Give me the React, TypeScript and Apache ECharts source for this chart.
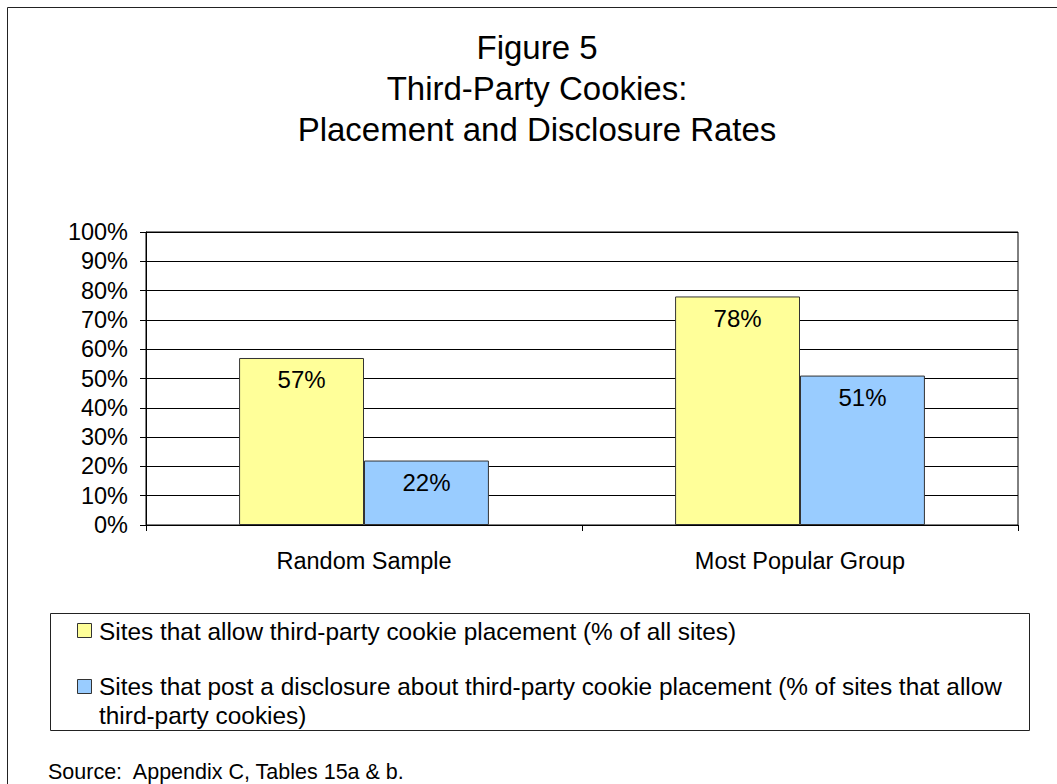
import React, { useEffect, useRef } from "react";
import * as echarts from "echarts";

const categories = ["Random Sample", "Most Popular Group"];
const seriesNames = [
  "Sites that allow third-party cookie placement (% of all sites)",
  "Sites that post a disclosure about third-party cookie placement (% of sites that allow third-party cookies)",
];
const placementValues = [57, 78];
const disclosureValues = [22, 51];
const titleLines = ["Figure 5", "Third-Party Cookies:", "Placement and Disclosure Rates"];
const sourceNote = "Source:  Appendix C, Tables 15a & b.";
const colors = ["#FFFF99", "#99CCFF"];

const FONT = "'Liberation Sans', Arial, sans-serif";

export default function App() {
  const ref = useRef<HTMLDivElement>(null);
  useEffect(() => {
    if (!ref.current) return;
    const chart = echarts.init(ref.current, null, { renderer: "svg" });
    const labelStyle = {
      show: true,
      position: "insideTop",
      distance: 10,
      formatter: "{c}%",
      color: "#000",
      fontSize: 24,
      fontFamily: FONT,
    };
    chart.setOption({
      animation: false,
      backgroundColor: "#fff",
      grid: {
        left: 146,
        top: 232,
        right: 39,
        bottom: 259,
        show: true,
        borderColor: "#000",
        borderWidth: 1,
        backgroundColor: "transparent",
        containLabel: false,
      },
      xAxis: {
        type: "category",
        data: categories,
        axisLine: { lineStyle: { color: "#000", width: 1 } },
        axisTick: { show: true, length: 6, lineStyle: { color: "#000" } },
        axisLabel: { color: "#000", fontSize: 23.5, fontFamily: FONT, margin: 24 },
      },
      yAxis: {
        type: "value",
        min: 0,
        max: 100,
        interval: 10,
        axisLine: { show: true, lineStyle: { color: "#000", width: 1 } },
        axisTick: { show: true, length: 6, lineStyle: { color: "#000" } },
        axisLabel: { formatter: "{value}%", color: "#000", fontSize: 23.5, fontFamily: FONT, margin: 18 },
        splitLine: { show: true, lineStyle: { color: "#000", width: 1 } },
      },
      series: [
        {
          name: seriesNames[0],
          type: "bar",
          data: placementValues,
          barGap: "0%",
          barCategoryGap: "42.7%",
          itemStyle: { color: colors[0], borderColor: "#333", borderWidth: 1 },
          label: labelStyle,
        },
        {
          name: seriesNames[1],
          type: "bar",
          data: disclosureValues,
          barGap: "0%",
          barCategoryGap: "42.7%",
          itemStyle: { color: colors[1], borderColor: "#333", borderWidth: 1 },
          label: labelStyle,
        },
      ],
      graphic: [
        {
          type: "rect",
          shape: { x: 7.5, y: 7.5, width: 1100, height: 900 },
          style: { fill: "none", stroke: "#222", lineWidth: 1 },
          silent: true,
        },
        {
          type: "text",
          x: 537,
          y: 27,
          style: {
            text: titleLines.join("\n"),
            fontSize: 33,
            lineHeight: 41,
            fontFamily: FONT,
            fill: "#000",
            align: "center",
            verticalAlign: "top",
          },
        },
        {
          type: "rect",
          shape: { x: 50.5, y: 613.5, width: 979, height: 117 },
          style: { fill: "#fff", stroke: "#222", lineWidth: 1 },
          silent: true,
        },
        {
          type: "rect",
          shape: { x: 77.5, y: 623.5, width: 14, height: 14 },
          style: { fill: colors[0], stroke: "#333", lineWidth: 1 },
        },
        {
          type: "text",
          x: 99,
          y: 631,
          style: {
            text: seriesNames[0],
            fontSize: 24.4,
            fontFamily: FONT,
            fill: "#000",
            verticalAlign: "middle",
          },
        },
        {
          type: "rect",
          shape: { x: 77.5, y: 679.5, width: 14, height: 14 },
          style: { fill: colors[1], stroke: "#333", lineWidth: 1 },
        },
        {
          type: "text",
          x: 99,
          y: 672,
          style: {
            text: seriesNames[1],
            width: 922,
            overflow: "break",
            lineHeight: 29,
            fontSize: 24.4,
            fontFamily: FONT,
            fill: "#000",
            verticalAlign: "top",
          },
        },
        {
          type: "text",
          x: 48,
          y: 772,
          style: {
            text: sourceNote,
            fontSize: 21.5,
            fontFamily: FONT,
            fill: "#000",
            verticalAlign: "middle",
          },
        },
      ],
    });
    return () => chart.dispose();
  }, []);
  return (
    <div
      ref={ref}
      style={{ position: "absolute", left: 0, top: 0, width: 1057, height: 784 }}
    />
  );
}
